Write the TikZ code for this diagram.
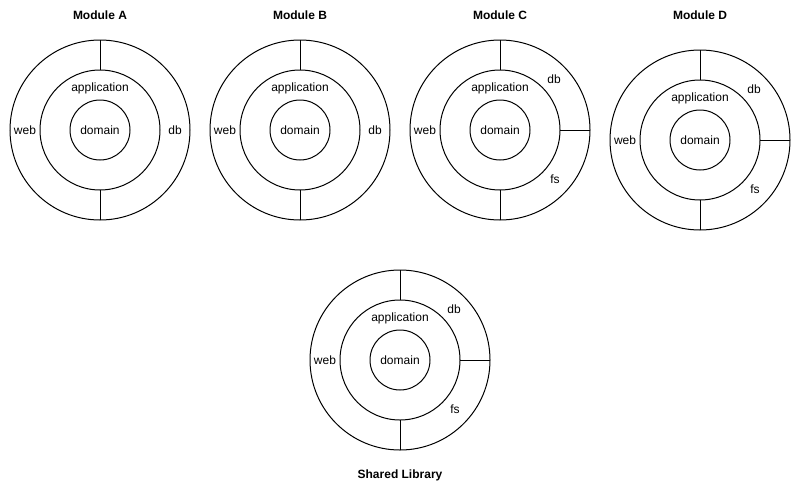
\documentclass[tikz,border=0pt]{standalone}
\usepackage{fontspec}
\setmainfont{Liberation Sans}
\newcommand{\onionbase}[3]{%
  \node[ring=180pt] (#1O) at (#2,#3) {};
  \node[ring=120pt] (#1M) at (#2,#3) {};
  \node[ring=60pt]  (#1I) at (#2,#3) {};
  \node[lbl] (#1dom) at (#2,#3) {domain};
  \node[lbl] (#1app) at ($(#2,#3)+(0,-43)$) {application};
  \node[lbl] (#1web) at ($(#2,#3)+(-75,0)$) {web};
  \draw (#1O.north) -- (#1M.north);
  \draw (#1O.south) -- (#1M.south);
}
\usetikzlibrary{calc}
\begin{document}
\begin{tikzpicture}[x=1pt,y=-1pt,line width=1pt,
  ring/.style={draw,circle,inner sep=0pt,outer sep=0pt,minimum size=#1},
  lbl/.style={font=\fontsize{12}{14}\selectfont,inner sep=0pt,text height=8.6pt,text depth=0.6pt},
  ttl/.style={font=\bfseries\fontsize{12}{14}\selectfont,inner sep=0pt,text height=8.6pt,text depth=0.6pt}]
\useasboundingbox (0,0) rectangle (800,490);
% Module A
\node[ttl] (tA) at (100,15) {Module A};
\onionbase{a}{100}{130}
\node[lbl] (adb) at (175,130) {db};
% Module B
\node[ttl] (tB) at (300,15) {Module B};
\onionbase{b}{300}{130}
\node[lbl] (bdb) at (375,130) {db};
% Module C
\node[ttl] (tC) at (500,15) {Module C};
\onionbase{c}{500}{130}
\draw (cM.east) -- (cO.east);
\node[lbl] (cdb) at (554,79) {db};
\node[lbl] (cfs) at (555,179) {fs};
% Module D
\node[ttl] (tD) at (700,15) {Module D};
\onionbase{d}{700}{140}
\draw (dM.east) -- (dO.east);
\node[lbl] (ddb) at (754,89) {db};
\node[lbl] (dfs) at (755,189) {fs};
% Shared Library
\onionbase{s}{400}{360}
\draw (sM.east) -- (sO.east);
\node[lbl] (sdb) at (454,309) {db};
\node[lbl] (sfs) at (455,409) {fs};
\node[ttl] (tS) at (400,474) {Shared Library};
\end{tikzpicture}
\end{document}
